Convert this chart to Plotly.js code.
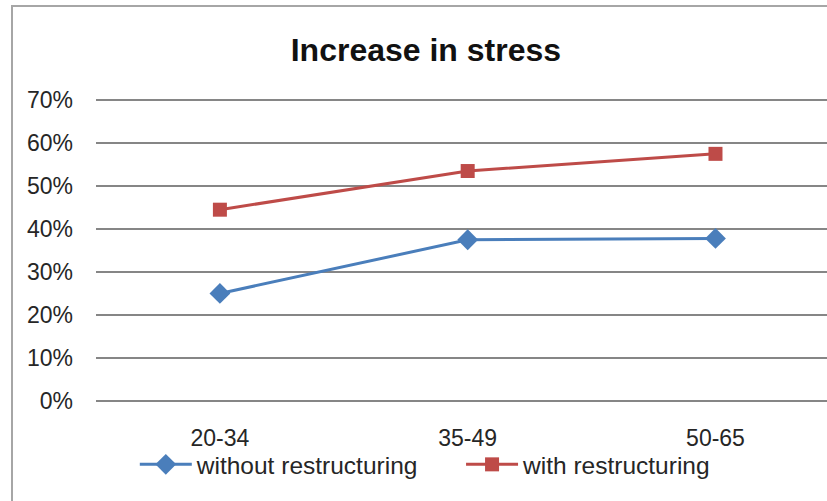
<!DOCTYPE html>
<html>
<head>
<meta charset="utf-8">
<script src="https://cdn.plot.ly/plotly-3.0.1.min.js"></script>
<style>
  html, body { margin: 0; padding: 0; background: #fff; overflow: hidden; }
  #chart { width: 827px; height: 501px; position: absolute; left: 0; top: 0; }
  #frame { position: absolute; left: 11px; top: 5px; width: 830px; height: 510px;
           border-left: 2px solid #a6a6a6; border-top: 2px solid #a6a6a6; pointer-events: none; }
</style>
</head>
<body>
<div id="chart"></div>
<div id="frame"></div>
<script>
const categories = ["20-34", "35-49", "50-65"];
const withoutRestructuring = [0.25, 0.375, 0.378];
const withRestructuring = [0.445, 0.535, 0.575];
const yTickValues = [0, 0.1, 0.2, 0.3, 0.4, 0.5, 0.6, 0.7];
const yTickLabels = ["0%", "10%", "20%", "30%", "40%", "50%", "60%", "70%"];
const seriesNames = ["without restructuring", "with restructuring"];

const FONT = '"Liberation Sans", Arial, sans-serif';
const TXT = '#262626';

const traces = [
  {
    x: categories, y: withoutRestructuring, name: seriesNames[0],
    type: 'scatter', mode: 'lines+markers', legend: 'legend',
    line: { color: '#4a7ebb', width: 3 },
    marker: { symbol: 'diamond', size: 16, color: '#4a7ebb' }
  },
  {
    x: categories, y: withRestructuring, name: seriesNames[1],
    type: 'scatter', mode: 'lines+markers', legend: 'legend2',
    line: { color: '#be4b48', width: 3 },
    marker: { symbol: 'square', size: 14, color: '#be4b48' }
  }
];

const legendCommon = {
  orientation: 'h', xref: 'container', yref: 'container', yanchor: 'middle', xanchor: 'left',
  font: { family: FONT, size: 24.5, color: TXT }, bgcolor: 'rgba(0,0,0,0)', itemwidth: 52
};

const layout = {
  width: 827, height: 501,
  margin: { l: 96, r: 0, t: 98, b: 98 },
  paper_bgcolor: 'rgba(0,0,0,0)', plot_bgcolor: 'rgba(0,0,0,0)',
  font: { family: FONT, color: TXT, size: 23 },
  title: {
    text: '<b>Increase in stress</b>',
    font: { family: FONT, size: 32, color: '#111' },
    x: 0.515, xanchor: 'center', y: 0.9, yanchor: 'middle', xref: 'container', yref: 'container'
  },
  xaxis: {
    type: 'category', range: [-0.5, 2.45],
    showgrid: false, zeroline: false, showline: false, ticks: '',
    ticklabelstandoff: 19,
    tickfont: { family: FONT, size: 23, color: TXT }
  },
  yaxis: {
    range: [-0.005, 0.705], tickvals: yTickValues, ticktext: yTickLabels,
    showgrid: true, gridcolor: '#868686', gridwidth: 1.5,
    zeroline: false, showline: false, ticks: '',
    ticklabelstandoff: 22,
    tickfont: { family: FONT, size: 23, color: TXT }
  },
  showlegend: true,
  legend: Object.assign({}, legendCommon, { x: 0.163, y: 0.073 }),
  legend2: Object.assign({}, legendCommon, { x: 0.5575, y: 0.073 })
};

Plotly.newPlot('chart', traces, layout, { displayModeBar: false, staticPlot: true });
</script>
</body>
</html>
